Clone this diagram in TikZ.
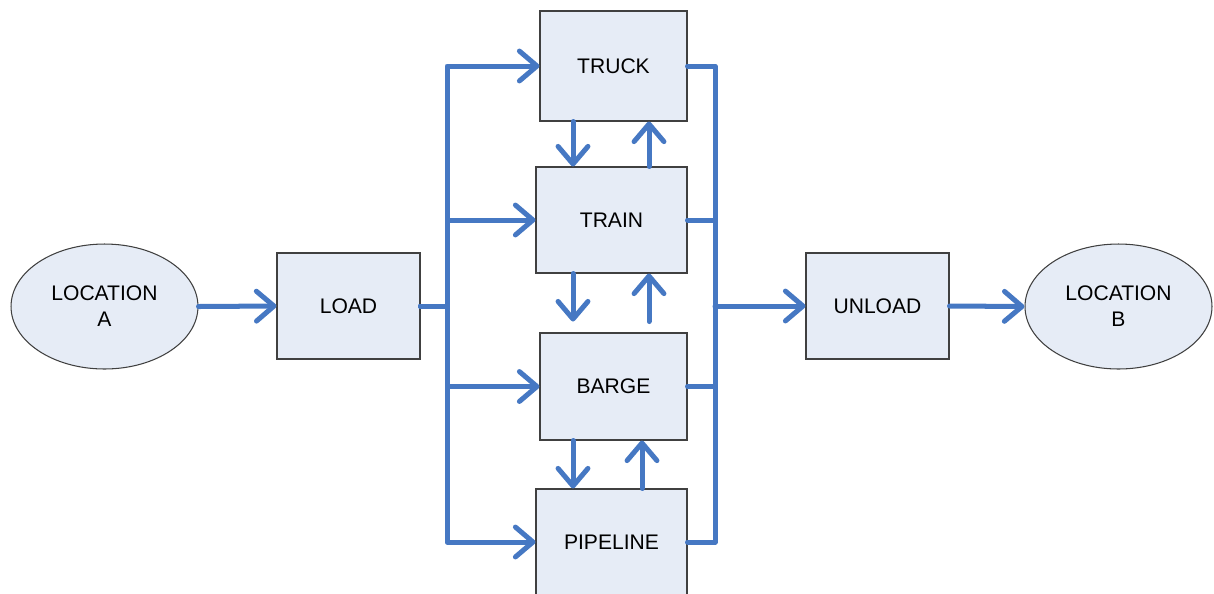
\documentclass[tikz,border=0pt]{standalone}
\usepackage{fontspec}
\setmainfont{Liberation Sans}
\usetikzlibrary{arrows.meta,shapes.geometric,calc}
\definecolor{flowblue}{RGB}{70,120,195}
\definecolor{boxfill}{RGB}{230,236,246}

\begin{document}
\begin{tikzpicture}[x=0.02cm, y=-0.02cm,
  box/.style={draw=black!75, line width=0.6pt, fill=boxfill, inner sep=0pt,
              minimum width=2.94cm, minimum height=2.12cm,
              font=\fontsize{12}{14.8}\selectfont},
  place/.style={ellipse, draw=black!75, line width=0.6pt, fill=boxfill, inner sep=0pt,
              minimum width=3.74cm, minimum height=2.5cm, align=center,
              font=\fontsize{12}{14.8}\selectfont},
  blueline/.style={flowblue, line width=2.85pt, line cap=round, line join=round},
  bluearrow/.style={blueline, -{Straight Barb[length=10pt,width=17pt,round]}}]
\path[use as bounding box, clip] (0,0) rectangle (1214,593);

% places and steps
\node[place] (loca) at (104.5,306.5) {LOCATION\\A};
\node[box, minimum width=2.86cm] (load) at (348.5,306) {LOAD};

\node[box, minimum height=2.2cm] (truck) at (613.5,66) {TRUCK};
\node[box, minimum width=3.02cm] (train) at (611.5,220) {TRAIN};
\node[box, minimum height=2.14cm] (barge) at (613.5,386.5) {BARGE};
\node[box, minimum width=3.02cm] (pipeline) at (611.5,542) {PIPELINE};

\node[box, minimum width=2.86cm] (unload) at (877.5,306) {UNLOAD};
\node[place] (locb) at (1118.5,306.5) {LOCATION\\B};

\coordinate (lbus) at (447,306);
\coordinate (rbus) at (715,306);

% in and out
\draw[bluearrow] (loca.east) -- (load.west);
\draw[bluearrow] (unload.east) -- (locb.west);

% left bus
\draw[bluearrow] (load.east) -- (lbus) |- (truck.west);
\draw[bluearrow] (load.east) -- (lbus) |- (train.west);
\draw[bluearrow] (load.east) -- (lbus) |- (barge.west);
\draw[bluearrow] (load.east) -- (lbus) |- (pipeline.west);

% right bus
\draw[blueline] (truck.east) -| (rbus);
\draw[blueline] (train.east) -| (rbus);
\draw[blueline] (barge.east) -| (rbus);
\draw[blueline] (pipeline.east) -| (rbus);
\draw[bluearrow] (rbus) -- (unload.west);

% transfers between modes
\draw[bluearrow] ($(truck.south)+(-40.5,0)$) -- ($(train.north)+(-38.5,0)$);
\draw[bluearrow] ($(train.north)+(37.5,0)$) -- ($(truck.south)+(35.5,0)$);

\draw[bluearrow] ($(train.south)+(-38.5,0)$) -- ($(train.south)+(-38.5,48)$);
\draw[bluearrow] ($(train.south)+(37.5,48)$) -- ($(train.south)+(37.5,0)$);

\draw[bluearrow] ($(barge.south)+(-40.5,0)$) -- ($(pipeline.north)+(-38.5,0)$);
\draw[bluearrow] ($(pipeline.north)+(30.5,0)$) -- ($(barge.south)+(28.5,0)$);

\end{tikzpicture}
\end{document}
